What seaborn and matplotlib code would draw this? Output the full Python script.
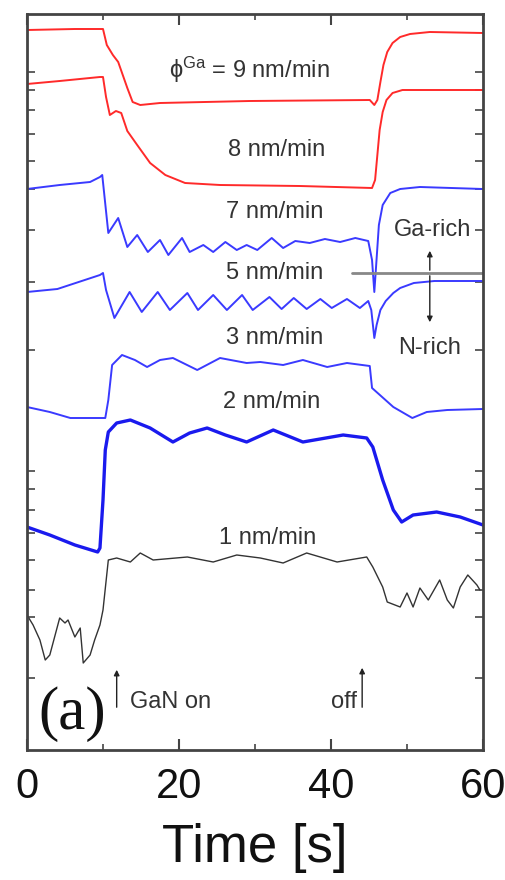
import matplotlib
matplotlib.use("Agg")
import matplotlib.pyplot as plt
import seaborn as sns
import pandas as pd

sns.set_theme(style="white")
plt.rcParams['font.family'] = ['Liberation Sans', 'DejaVu Sans']
plt.rcParams['mathtext.fontset'] = 'custom'
plt.rcParams['mathtext.rm'] = 'Liberation Sans'
plt.rcParams['mathtext.it'] = 'Liberation Sans:italic'

# ---- data (time in s, intensity in arbitrary offset units) ----
t9 = [0, 6.3, 10.0, 10.5, 11.3, 12.0, 13.2, 13.9, 14.9, 17.5, 29.3, 45.1, 45.7, 46.1, 46.5, 46.9, 47.4, 48.1, 49.1,
      50.4, 53.0, 60]
y9 = [720, 721, 721, 705, 695, 688, 662, 648, 645, 647, 649, 650, 645, 650, 668, 685, 698, 707, 713,
      716, 718, 717]

t8 = [0, 4.3, 9.6, 10.0, 10.4, 10.9, 11.7, 12.4, 13.2, 14.5, 16.2, 18.2, 20.8, 25.4, 35.9, 45.4, 45.8, 46.1, 46.4,
      46.8, 47.3, 48.1, 49.4, 60]
y8 = [666, 669, 673, 673, 653, 635, 639, 637, 619, 605, 587, 575, 567, 565, 564, 562, 570, 595, 620,
      638, 650, 657, 660, 660]

t7 = [0, 4.3, 8.3, 9.6, 9.9, 10.7, 12.0, 13.2, 14.5, 15.9, 17.5, 18.6, 20.4, 21.4, 23.2, 24.5, 26.1, 27.6, 28.9, 30.3,
      32.2, 33.7, 35.3, 37.2, 39.2, 41.2, 43.2, 44.9, 45.4, 45.7, 45.9, 46.3, 46.8, 47.8, 49.1, 51.7, 60]
y7 = [561, 565, 568, 573, 575, 517, 532, 503, 515, 498, 510, 495, 512, 498, 505, 498, 508, 500, 505, 500,
      512, 502, 509, 507, 511, 508, 512, 509, 490, 458, 480, 525, 545, 557, 561, 563, 561]

t5 = [0, 4.0, 9.6, 10.0, 10.4, 11.5, 13.5, 15.1, 17.2, 18.8, 21.1, 22.5, 24.5, 26.3, 28.3, 29.7, 31.9, 33.5, 35.1, 36.8,
      38.6, 40.1, 42.1, 43.8, 44.9, 45.3, 45.7, 46.0, 46.5, 47.2, 48.2, 49.1, 50.9, 53.6, 60]
y5 = [458, 461, 475, 477, 460, 432, 458, 438, 458, 440, 457, 440, 455, 440, 455, 440, 453, 441, 452, 441,
      451, 442, 451, 442, 449, 440, 412, 425, 440, 449, 457, 462, 467, 469, 469]

t3 = [0, 3.0, 5.7, 10.3, 10.7, 11.2, 12.5, 14.2, 15.8, 17.5, 19.2, 20.8, 22.4, 25.4, 28.9, 30.7, 33.7, 36.3, 39.5, 42.1,
      45.1, 45.4, 48.2, 50.7, 52.6, 55.3, 60]
y3 = [343, 338, 332, 332, 350, 385, 395, 390, 383, 390, 392, 386, 380, 392, 387, 388, 385, 390, 383, 387,
      384, 362, 343, 332, 338, 340, 341]

t2 = [0, 3.0, 6.3, 9.3, 9.6, 10.0, 10.3, 10.7, 11.8, 13.6, 16.2, 19.2, 21.4, 23.7, 26.1, 28.9, 32.4, 36.3, 41.6, 44.7,
      45.5, 46.8, 48.2, 49.3, 50.8, 53.9, 57.0, 60]
y2 = [223, 215, 205, 198, 202, 250, 300, 318, 327, 330, 322, 308, 317, 322, 315, 308, 320, 308, 315, 312,
      303, 270, 240, 228, 235, 238, 233, 225]

t1 = [0, 0.8, 1.7, 2.4, 3.0, 4.3, 5.0, 5.4, 6.3, 7.0, 7.4, 8.3, 8.9, 9.6, 10.0, 10.7, 11.8, 13.6, 14.9, 16.6,
      21.1, 24.5, 27.6, 30.7, 33.7, 36.8, 40.8, 44.7, 45.5, 46.8, 47.4, 49.1, 50.0, 50.8, 51.7, 52.8, 54.3, 55.3,
      56.1, 57.0, 58.0, 59.2, 59.6]
y1 = [135, 125, 110, 90, 95, 132, 127, 130, 113, 122, 87, 95, 110, 125, 140, 190, 192, 188, 197, 190,
      193, 188, 195, 192, 187, 197, 188, 193, 183, 163, 148, 143, 157, 143, 162, 150, 170, 150,
      142, 163, 175, 165, 160]

rate_labels = ['ϕ$^{\\rm Ga}$ = 9 nm/min', '8 nm/min', '7 nm/min', '5 nm/min', '3 nm/min', '2 nm/min', '1 nm/min']
x_ticks = [0, 20, 40, 60]
y_tick_pos = [678, 660, 640, 616, 589, 561, 520, 468, 400, 279, 261, 240, 217, 190, 160, 133, 72]

curves = [
    (t9, y9, '#ff2a2a', 1.4),
    (t8, y8, '#ff2a2a', 1.4),
    (t7, y7, '#3a3aff', 1.4),
    (t5, y5, '#3a3aff', 1.4),
    (t3, y3, '#3a3aff', 1.4),
    (t2, y2, '#1a1aee', 2.4),
    (t1, y1, '#333333', 1.0),
]

fig = plt.figure(figsize=(5.06, 8.8), dpi=100)
ax = fig.add_axes([27/506, 130/880, 456/506, 736/880])

for t, y, c, lw in curves:
    df = pd.DataFrame({'t': t, 'y': y})
    sns.lineplot(data=df, x='t', y='y', ax=ax, color=c, lw=lw, sort=False, estimator=None,
                 solid_joinstyle='round')

ax.set_xlim(0, 60)
ax.set_ylim(0, 736)

# labels for each curve
lab_pos = [(29.3, 680), (32.9, 600), (32.6, 538), (32.6, 477), (32.6, 412), (32.2, 348), (31.7, 212)]
for (x, y), s in zip(lab_pos, rate_labels):
    ax.text(x, y, s, ha='center', va='center', fontsize=17, color='#333333')

# Ga-rich / N-rich indicator
ax.plot([42.8, 60], [477, 477], color='#888888', lw=2)
ax.annotate('', xy=(53.0, 502), xytext=(53.0, 477),
            arrowprops=dict(arrowstyle='-|>', color='#222222', lw=1, mutation_scale=8))
ax.annotate('', xy=(53.0, 425), xytext=(53.0, 477),
            arrowprops=dict(arrowstyle='-|>', color='#222222', lw=1, mutation_scale=8))
ax.text(53.3, 520, 'Ga-rich', ha='center', va='center', fontsize=17, color='#333333')
ax.text(53.0, 402, 'N-rich', ha='center', va='center', fontsize=17, color='#333333')

# GaN on / off arrows
ax.annotate('', xy=(11.8, 83), xytext=(11.8, 40),
            arrowprops=dict(arrowstyle='-|>', color='#222222', lw=1, mutation_scale=8))
ax.annotate('', xy=(44.1, 85), xytext=(44.1, 40),
            arrowprops=dict(arrowstyle='-|>', color='#222222', lw=1, mutation_scale=8))
ax.text(13.6, 48, 'GaN on', ha='left', va='center', fontsize=17, color='#333333')
ax.text(43.4, 48, 'off', ha='right', va='center', fontsize=17, color='#333333')
ax.text(6.0, 36, '(a)', ha='center', va='center', fontsize=44, color='#111111',
        family=['Liberation Serif', 'DejaVu Serif'])

# axes styling
for s in ax.spines.values():
    s.set_color('#444444')
    s.set_linewidth(2)
ax.set_xticks(x_ticks)
ax.set_xticks([10, 30, 50], minor=True)
ax.set_xticklabels([str(v) for v in x_ticks])
ax.set_yticks(y_tick_pos)
ax.set_yticklabels([])
ax.tick_params(axis='x', which='major', direction='in', length=8, width=1.5, color='#444444',
               top=True, bottom=True, labelsize=30, pad=12, labelcolor='#111111')
ax.tick_params(axis='x', which='minor', direction='in', length=4, width=1.2, color='#444444',
               top=True, bottom=True)
ax.tick_params(axis='y', which='major', direction='in', length=6, width=1.2, color='#444444',
               left=True, right=True)
ax.set_xlabel('Time [s]', fontsize=38, color='#111111', labelpad=12)
ax.set_ylabel('')

fig.savefig('out.png', dpi=100)
